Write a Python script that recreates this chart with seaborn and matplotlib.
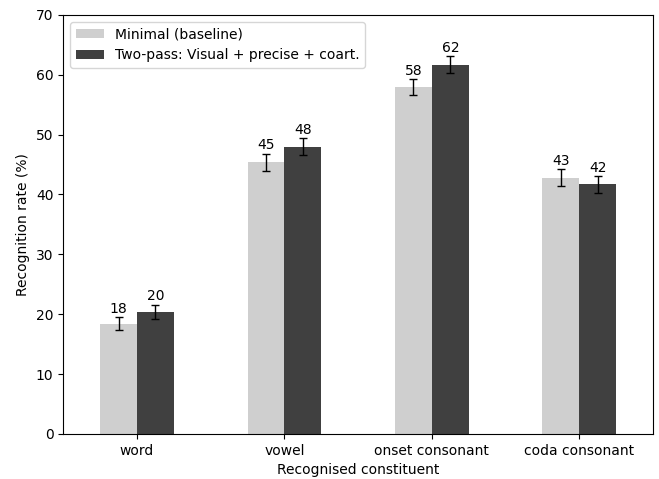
import matplotlib
matplotlib.use("Agg")
import matplotlib.pyplot as plt
import numpy as np
import pandas as pd
import seaborn as sns

categories = ["word", "vowel", "onset consonant", "coda consonant"]
series = ["Minimal (baseline)", "Two-pass: Visual + precise + coart."]
baseline_vals = [18.4, 45.4, 57.9, 42.8]
twopass_vals = [20.4, 48.0, 61.7, 41.7]
baseline_err = [1.1, 1.4, 1.35, 1.4]
twopass_err = [1.2, 1.35, 1.35, 1.4]
colors = ["#cfcfcf", "#404040"]

df = pd.DataFrame({
    "constituent": categories * 2,
    "method": [series[0]] * 4 + [series[1]] * 4,
    "rate": baseline_vals + twopass_vals,
})
errs = [baseline_err, twopass_err]
vals = [baseline_vals, twopass_vals]

fig, ax = plt.subplots(figsize=(6.59, 4.79), dpi=100)
fig.subplots_adjust(left=0.096, right=0.991, top=0.969, bottom=0.094)

sns.barplot(data=df, x="constituent", y="rate", hue="method",
            order=categories, hue_order=series, palette=colors,
            width=0.5, errorbar=None, linewidth=0, legend=False, ax=ax)

for container, v, e in zip(ax.containers, vals, errs):
    xs = [b.get_x() + b.get_width() / 2 for b in container]
    ax.errorbar(xs, v, yerr=e, fmt="none", ecolor="black",
                elinewidth=1, capsize=3, capthick=1)
    for x, val, err in zip(xs, v, e):
        ax.annotate(f"{val:.0f}", (x, val + err), xytext=(0, 1),
                    textcoords="offset points", ha="center", va="bottom",
                    fontsize=10)

ax.set_ylim(0, 70)
ax.set_xlim(-0.5, 3.5)
ax.set_xlabel("Recognised constituent")
ax.set_ylabel("Recognition rate (%)")
ax.legend(ax.containers, series, loc="upper left")

fig.savefig("out.png", dpi=100)
